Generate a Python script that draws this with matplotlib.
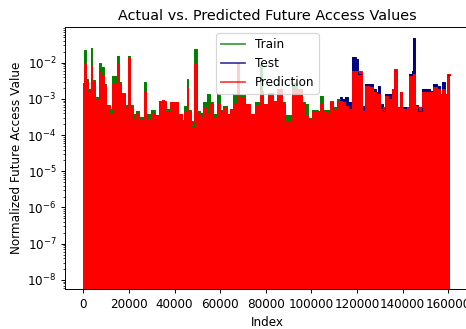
import numpy as np
import matplotlib.pyplot as plt

# step breakpoints (sample index) and normalized access values
pred_idx = [0, 300, 1200, 2100, 3200, 3800, 5100, 6900, 7800, 9100,
            10000, 11700, 12600, 14600, 15700, 16500, 18300, 19800, 20500, 21800,
            23100, 24400, 26800, 27500, 29700, 31500, 33200, 34300, 35400, 36300,
            38000, 41500, 43300, 44200, 45500, 46100, 47200, 48500, 49900, 51200,
            52500, 54200, 55600, 56900, 58600, 59900, 61300, 63000, 64300, 65700,
            67400, 68300, 70900, 73100, 75300, 77300, 77900, 78800, 81000, 83200,
            84900, 87100, 88400, 91600, 96000, 97200, 98600, 100300, 103000, 103800,
            105100, 106900, 108200, 109500, 111300, 113500, 114800, 116100, 117800, 122300,
            123600, 125400, 127100, 128400, 129300, 130100, 131400, 132300, 133600, 135400,
            136300, 137600, 138900, 139800, 142000, 142900, 144200, 144600, 145500, 146800,
            148500, 152000, 153300, 155100, 156400, 157300, 158600, 159500]
pred_val = [0.0019, 0.0094, 0.0032, 0.0019, 0.0088, 0.0032, 0.0010, 0.0056, 0.0044, 0.0023,
            0.00064, 0.00053, 0.0026, 0.0094, 0.0026, 0.0014, 0.0006, 0.0147, 0.0006, 0.00028,
            0.00041, 0.00028, 0.00156, 0.00028, 0.00038, 0.00034, 0.0008, 0.00094, 0.0008, 0.00053,
            0.00083, 0.00038, 0.00024, 0.00044, 0.00215, 0.00044, 0.00024, 0.0094, 0.00038, 0.00032,
            0.0006, 0.00038, 0.00073, 0.00032, 0.00073, 0.00046, 0.0006, 0.00038, 0.00053, 0.00073,
            0.0100, 0.00114, 0.00073, 0.00038, 0.00064, 0.0019, 0.0012, 0.00073, 0.0012, 0.00088,
            0.0019, 0.00073, 0.00024, 0.0019, 0.00073, 0.00034, 0.00028, 0.00044, 0.00044, 0.00073,
            0.00046, 0.00038, 0.00083, 0.00053, 0.00088, 0.00083, 0.00064, 0.00053, 0.0060, 0.00046,
            0.0023, 0.00215, 0.00156, 0.00121, 0.0014, 0.00053, 0.0006, 0.00121, 0.0010, 0.0019,
            0.0068, 0.0006, 0.00156, 0.00053, 0.0006, 0.0044, 0.0030, 0.0049, 0.00064, 0.0006,
            0.00156, 0.00156, 0.00215, 0.0019, 0.00138, 0.0019, 0.00138, 0.0049]

train_idx = [0, 300, 1200, 2100, 3200, 3800, 5100, 6900, 7800, 9100,
             10000, 11700, 12600, 14600, 15700, 16500, 18300, 19800, 20500, 21800,
             23100, 24400, 26800, 27500, 29700, 31500, 33200, 36300, 38000, 41500,
             43300, 44200, 45500, 46100, 47200, 48500, 49900, 51200, 52500, 54200,
             55600, 56900, 58600, 59900, 61300, 63000, 64300, 65700, 67400, 68300,
             70900, 73100, 75300, 77500, 78400, 78800, 81000, 83200, 84900, 87100,
             88400, 91600, 93700, 96000, 97200, 98600, 100300, 103000, 103800, 105100,
             106900, 108200, 109500, 111300]
train_val = [0.00278, 0.023, 0.0036, 0.0017, 0.0261, 0.0034, 0.00114, 0.0100, 0.0077, 0.0025,
             0.0007, 0.00044, 0.0044, 0.0156, 0.0030, 0.0015, 0.0007, 0.0156, 0.0007, 0.00038,
             0.00045, 0.00032, 0.00297, 0.00038, 0.00049, 0.00036, 0.0009, 0.0005, 0.0008, 0.00038,
             0.00026, 0.00064, 0.0036, 0.0005, 0.00018, 0.0245, 0.00046, 0.00041, 0.00083, 0.00138,
             0.0008, 0.00038, 0.00138, 0.0005, 0.00064, 0.00038, 0.00053, 0.00138, 0.00167, 0.0013,
             0.00073, 0.00038, 0.0008, 0.0094, 0.0017, 0.00073, 0.0015, 0.0009, 0.0019, 0.0008,
             0.00036, 0.0028, 0.0018, 0.0008, 0.00073, 0.0003, 0.00049, 0.00046, 0.0012, 0.0005,
             0.00049, 0.0009, 0.0006, 0.0010]

test_idx = [112600, 113500, 114800, 116100, 117800, 119500, 120500, 122300, 123600, 125400,
            127100, 128400, 129300, 130100, 131400, 132300, 133600, 135400, 136300, 137600,
            138900, 139800, 142000, 142900, 144200, 144600, 145500, 146800, 148500, 152000,
            153300, 155100, 156400, 157300, 158600, 159500]
test_val = [0.00114, 0.0010, 0.00114, 0.00083, 0.0147, 0.0129, 0.0049, 0.00064, 0.0025, 0.0025,
            0.0019, 0.0016, 0.0023, 0.00073, 0.00046, 0.0014, 0.0014, 0.0019, 0.0060, 0.0006,
            0.00156, 0.0006, 0.0006, 0.0049, 0.0060, 0.049, 0.0007, 0.00046, 0.0019, 0.0017,
            0.0026, 0.0023, 0.00138, 0.0030, 0.0014, 0.0045]

train_end = 112600
last_index = 161000


def steps(idx, val, end):
    x = np.append(np.asarray(idx, dtype=float), end)
    y = np.append(np.asarray(val, dtype=float), val[-1])
    return x, y


DPI = 86.4
fig = plt.figure(figsize=(466 / DPI, 329 / DPI), dpi=DPI)
ax = fig.add_axes([65 / 466, 39.7 / 329, 405 / 466, 262 / 329])

floor = 1e-12
series = [
    (train_idx, train_val, train_end, 'green', 'Train'),
    (test_idx, test_val, last_index, 'navy', 'Test'),
    (pred_idx, pred_val, last_index, 'red', 'Prediction'),
]
for idx, val, end, color, label in series:
    x, y = steps(idx, val, end)
    ax.fill_between(x, floor, y, step='post', color=color, lw=0)
    ax.step(x, y, where='post', color=color, lw=0.8, label=label)

ax.set_yscale('log')
ax.set_ylim(5.5e-9, 0.095)
ax.set_xlim(-8040, 169600)
ax.set_xticks(np.arange(0, 160001, 20000))

ax.set_title('Actual vs. Predicted Future Access Values', fontsize=12)
ax.set_xlabel('Index')
ax.set_ylabel('Normalized Future Access Value')

leg = ax.legend(loc='upper center')
for h in leg.legend_handles:
    h.set_alpha(0.75)
    h.set_linewidth(1.5)

fig.savefig('out.png', dpi=DPI)
